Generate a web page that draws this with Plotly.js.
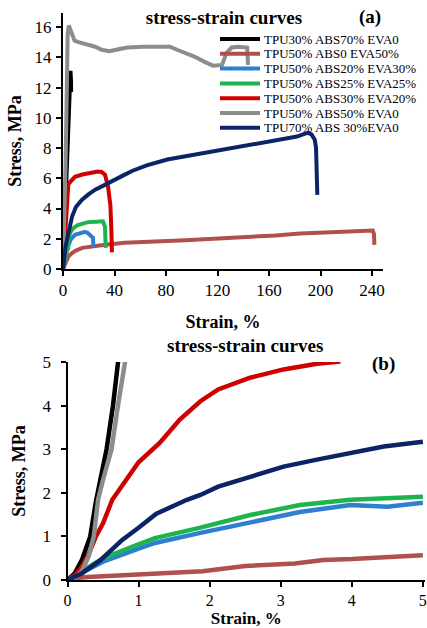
<!DOCTYPE html>
<html><head><meta charset="utf-8">
<script src="https://cdn.plot.ly/plotly-3.0.1.min.js"></script>
<style>html,body{margin:0;padding:0;background:#fff;}#chart{width:427px;height:628px;}</style>
</head><body><div id="chart"></div>
<script>
// ---- series identity ----
const seriesNames = [
  "TPU30% ABS70% EVA0",
  "TPU50% ABS0 EVA50%",
  "TPU50% ABS20% EVA30%",
  "TPU50% ABS25% EVA25%",
  "TPU50% ABS30% EVA20%",
  "TPU50% ABS50% EVA0",
  "TPU70% ABS 30%EVA0"
];
const seriesColors = ["#000000", "#B0504C", "#2F7FD0", "#1DB34F", "#D00000", "#8C8C8C", "#0B2466"];

// ---- panel (a): full curves, strain % / stress MPa ----
const aStrainBlack = [0, 1, 2, 3, 4, 5, 5.8, 6.2, 6.3];
const aStressBlack = [0, 2.5, 5, 7.5, 10, 12, 13.1, 12.5, 11.7];

const aStrainBrown = [0, 1, 2, 4, 7, 10, 15, 22, 32.6, 48, 60, 81, 95, 106, 120, 145, 165, 184, 200, 215, 228, 238, 240.5, 241.5, 241.8];
const aStressBrown = [0, 0.25, 0.5, 0.8, 1.05, 1.22, 1.4, 1.5, 1.6, 1.73, 1.76, 1.82, 1.9, 1.95, 2.02, 2.08, 2.22, 2.35, 2.42, 2.46, 2.55, 2.6, 2.55, 2.3, 1.6];

const aStrainBlue = [0, 1, 2, 3, 4, 6, 9.3, 13, 17, 19, 21, 23.3, 23.5, 23.6];
const aStressBlue = [0, 0.5, 0.9, 1.2, 1.5, 1.95, 2.26, 2.38, 2.46, 2.4, 2.26, 2.06, 1.7, 1.46];

const aStrainGreen = [0, 1, 2, 3, 4, 4.3, 6, 8, 11.5, 15.5, 19.5, 26, 31, 32.6, 33, 33.2];
const aStressGreen = [0, 0.5, 0.9, 1.2, 1.35, 2.1, 2.45, 2.7, 2.9, 3.0, 3.1, 3.12, 3.15, 2.8, 2.0, 1.4];

const aStrainRed = [0, 1, 2, 3, 3.8, 4.1, 6, 9.3, 15, 21, 27, 30, 32.6, 35, 36.8, 37.6, 38];
const aStressRed = [0, 1.2, 2.6, 4.2, 5.2, 5.58, 5.8, 6.1, 6.25, 6.35, 6.44, 6.42, 6.24, 5.44, 4.2, 2.5, 1.1];

const aStrainGray = [0, 1, 2, 3, 3.6, 4.5, 6, 9, 12, 18, 25, 30, 36, 44, 50, 62, 75, 83, 90, 102, 110, 116.5, 123.5, 127, 131, 136, 143, 143.7];
const aStressGray = [0, 3, 7, 12, 15.5, 16.1, 15.7, 15.1, 15.0, 14.85, 14.7, 14.5, 14.4, 14.55, 14.65, 14.7, 14.7, 14.7, 14.45, 14.05, 13.7, 13.45, 13.5, 14.3, 14.65, 14.7, 14.65, 13.5];

const aStrainNavy = [0, 1, 2, 3.1, 5, 7, 10, 14.8, 20, 25, 31, 38, 48, 54, 65, 81, 95, 106, 120, 132, 145, 158, 170, 181.7, 188, 190, 193, 195.5, 196.5, 197, 197.5];
const aStressNavy = [0, 1.0, 1.5, 1.93, 2.8, 3.45, 4.1, 4.58, 4.95, 5.25, 5.5, 5.78, 6.24, 6.5, 6.85, 7.24, 7.45, 7.65, 7.8, 8.03, 8.2, 8.37, 8.55, 8.76, 8.95, 9.0, 8.9, 8.55, 8.0, 6.5, 4.9];

// ---- panel (b): initial region ----
const bStrainBlack = [0, 0.1, 0.2, 0.32, 0.4, 0.48, 0.55, 0.64, 0.71, 0.74];
const bStressBlack = [0, 0.15, 0.45, 1.0, 1.8, 2.5, 3.0, 4.0, 5.0, 5.4];

const bStrainBrown = [0, 0.15, 0.29, 0.7, 1.0, 1.5, 1.9, 2.5, 3.2, 3.6, 4.0, 5.0];
const bStressBrown = [0, 0.05, 0.07, 0.1, 0.12, 0.15, 0.2, 0.32, 0.38, 0.46, 0.48, 0.57];

const bStrainBlue = [0, 0.5, 1.0, 1.23, 1.87, 2.57, 3.27, 3.98, 4.5, 5.0];
const bStressBlue = [0, 0.42, 0.72, 0.85, 1.08, 1.33, 1.56, 1.72, 1.68, 1.77];

const bStrainGreen = [0, 0.5, 1.0, 1.23, 1.87, 2.12, 2.57, 3.27, 3.98, 5.0];
const bStressGreen = [0, 0.5, 0.82, 0.96, 1.2, 1.31, 1.49, 1.72, 1.84, 1.91];

const bStrainRed = [0, 0.1, 0.2, 0.3, 0.4, 0.5, 0.63, 0.7, 0.88, 1.0, 1.3, 1.58, 1.87, 2.12, 2.57, 3.04, 3.51, 3.84];
const bStressRed = [0, 0.1, 0.3, 0.6, 1.0, 1.3, 1.84, 2.0, 2.4, 2.7, 3.15, 3.68, 4.1, 4.37, 4.64, 4.83, 4.96, 5.01];

const bStrainGray = [0, 0.1, 0.2, 0.3, 0.37, 0.43, 0.5, 0.62, 0.71, 0.81, 0.85];
const bStressGray = [0, 0.05, 0.2, 0.55, 1.0, 1.84, 2.3, 3.0, 4.0, 5.0, 5.4];

const bStrainNavy = [0, 0.2, 0.46, 0.77, 1.0, 1.25, 1.68, 1.87, 2.12, 2.57, 3.04, 3.51, 3.98, 4.45, 5.0];
const bStressNavy = [0, 0.15, 0.45, 0.92, 1.2, 1.52, 1.84, 1.95, 2.14, 2.37, 2.6, 2.76, 2.92, 3.06, 3.17];

// ---- tick labels ----
const aStrainTicks = [0, 40, 80, 120, 160, 200, 240];
const aStressTicks = [0, 2, 4, 6, 8, 10, 12, 14, 16];
const bStrainTicks = [0, 1, 2, 3, 4, 5];
const bStressTicks = [0, 1, 2, 3, 4, 5];

const panelA = [
  [aStrainBlack, aStressBlack], [aStrainBrown, aStressBrown], [aStrainBlue, aStressBlue],
  [aStrainGreen, aStressGreen], [aStrainRed, aStressRed], [aStrainGray, aStressGray], [aStrainNavy, aStressNavy]
];
const panelB = [
  [bStrainBlack, bStressBlack], [bStrainBrown, bStressBrown], [bStrainBlue, bStressBlue],
  [bStrainGreen, bStressGreen], [bStrainRed, bStressRed], [bStrainGray, bStressGray], [bStrainNavy, bStressNavy]
];

const FONT = "Liberation Serif";
const W = 427, H = 628;

const traces = [];
panelA.forEach((d, i) => traces.push({
  x: d[0], y: d[1], type: "scatter", mode: "lines", name: seriesNames[i],
  line: {color: seriesColors[i], width: 4}, xaxis: "x", yaxis: "y", showlegend: false
}));
panelB.forEach((d, i) => traces.push({
  x: d[0], y: d[1], type: "scatter", mode: "lines", name: seriesNames[i],
  line: {color: seriesColors[i], width: 4.5}, xaxis: "x2", yaxis: "y2", showlegend: false
}));

function axisBase(extra) {
  return Object.assign({
    showline: true, linecolor: "#000", linewidth: 2, mirror: false,
    ticks: "outside", ticklen: 5, tickwidth: 2, tickcolor: "#000",
    showgrid: false, zeroline: false, automargin: false,
    tickfont: {family: FONT, size: 17, color: "#000"}
  }, extra);
}
const titleFont = {family: FONT, size: 18, color: "#000", weight: "bold"};

// custom compact legend built from series names/colors
const shapes = [], annotations = [];
const legTop = 39, legStep = 14.8, legX0 = 220, legX1 = 260, legText = 262;
seriesNames.forEach((n, i) => {
  const yy = 1 - (legTop + i * legStep) / H;
  shapes.push({type: "line", xref: "paper", yref: "paper", x0: legX0 / W, x1: legX1 / W, y0: yy, y1: yy,
    line: {color: seriesColors[i], width: 4}});
  annotations.push({xref: "paper", yref: "paper", x: legText / W, y: yy, xanchor: "left", yanchor: "middle",
    text: n, showarrow: false, font: {family: FONT, size: 13, color: "#000"}});
});
annotations.push({xref: "paper", yref: "paper", x: 370 / W, y: 1 - 17 / H, xanchor: "center", yanchor: "middle",
  text: "(a)", showarrow: false, font: {family: FONT, size: 19, color: "#000", weight: "bold"}});
annotations.push({xref: "paper", yref: "paper", x: 245 / W, y: 1 - 345 / H, xanchor: "center", yanchor: "middle",
  text: "stress-strain curves", showarrow: false, font: {family: FONT, size: 19, color: "#000", weight: "bold"}});
annotations.push({xref: "paper", yref: "paper", x: 383 / W, y: 1 - 364 / H, xanchor: "center", yanchor: "middle",
  text: "(b)", showarrow: false, font: {family: FONT, size: 19, color: "#000", weight: "bold"}});

const layout = {
  width: W, height: H,
  margin: {l: 0, r: 0, t: 0, b: 0},
  paper_bgcolor: "#fff", plot_bgcolor: "#fff",
  showlegend: false,
  font: {family: FONT, color: "#000"},
  title: {text: "stress-strain curves", x: 224 / W, y: 1 - 17 / H, xref: "paper", yref: "paper",
    xanchor: "center", yanchor: "middle", font: {family: FONT, size: 19, color: "#000", weight: "bold"}},
  xaxis: axisBase({domain: [63 / W, 383 / W], range: [0, 248.5], tickvals: aStrainTicks, anchor: "y",
    title: {text: "Strain, %", font: titleFont, standoff: 16}}),
  yaxis: axisBase({domain: [(H - 269) / H, (H - 13) / H], range: [0, 16.93], tickvals: aStressTicks, anchor: "x",
    ticklabelstandoff: 1,
    title: {text: "Stress, MPa", font: titleFont, standoff: 8}}),
  xaxis2: axisBase({domain: [67.5 / W, 425 / W], range: [0, 5.03], tickvals: bStrainTicks, anchor: "y2",
    tickfont: {family: FONT, size: 16, color: "#000"},
    title: {text: "Strain, %", font: {family: FONT, size: 17, color: "#000", weight: "bold"}, standoff: 5}}),
  yaxis2: axisBase({domain: [(H - 580) / H, (H - 362) / H], range: [0, 5], tickvals: bStressTicks, anchor: "x2",
    ticklabelstandoff: 6,
    title: {text: "Stress, MPa", font: titleFont, standoff: 12}}),
  shapes: shapes,
  annotations: annotations
};

Plotly.newPlot("chart", traces, layout, {displayModeBar: false, staticPlot: true});
</script>
</body></html>
